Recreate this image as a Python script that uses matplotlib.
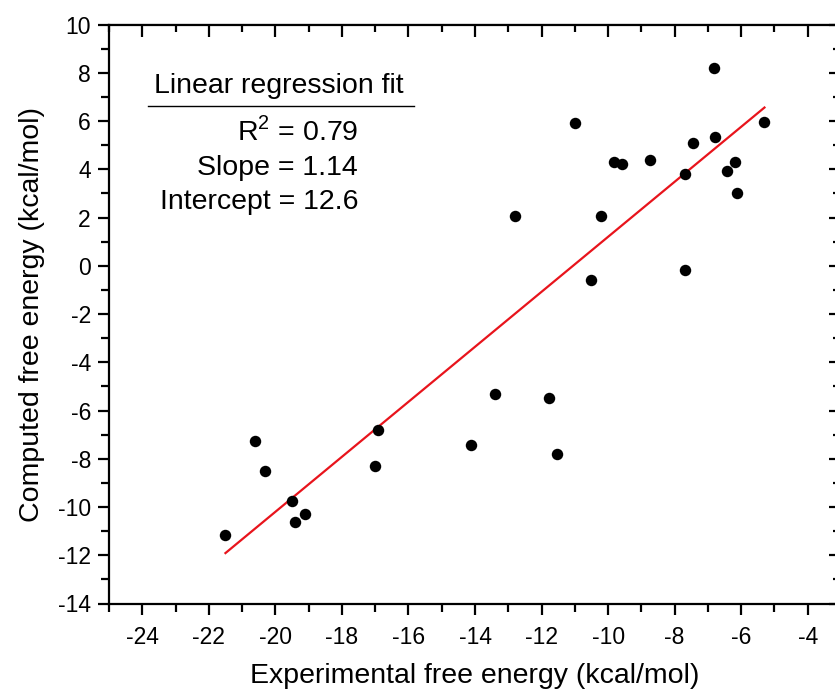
import numpy as np
import matplotlib
matplotlib.use("Agg")
import matplotlib.pyplot as plt
from matplotlib.ticker import MultipleLocator

plt.rcParams['font.family'] = ['Liberation Sans', 'DejaVu Sans']
plt.rcParams['axes.unicode_minus'] = False
plt.rcParams['mathtext.fontset'] = 'custom'
plt.rcParams['mathtext.rm'] = 'Liberation Sans'

# experimental vs computed free energies (kcal/mol)
exp_dg = [-21.5, -20.62, -20.32, -19.5, -19.41, -19.11, -17.01, -16.92,
          -14.11, -13.41, -12.81, -11.78, -11.53, -11.0, -10.5, -10.2,
          -9.83, -9.59, -8.75, -7.7, -7.7, -7.46, -6.83, -6.8,
          -6.44, -6.2, -6.14, -5.3]
calc_dg = [-11.18, -7.28, -8.49, -9.77, -10.64, -10.31, -8.28, -6.79,
           -7.44, -5.3, 2.08, -5.49, -7.82, 5.9, -0.61, 2.08,
           4.28, 4.2, 4.4, -0.16, 3.82, 5.07, 8.18, 5.32,
           3.91, 4.28, 3.0, 5.94]

# regression results as printed on the chart
r2 = 0.79
slope = 1.14
intercept = 12.6

fig = plt.figure(figsize=(8.35, 6.94), dpi=100)
W, H = 835, 694
# right spine falls just outside the image, as in the original
ax = fig.add_axes([109 / W, 1 - 603.5 / H, (841 - 109) / W, (603.5 - 24.5) / H])

ax.scatter(exp_dg, calc_dg, s=68, color='black', zorder=3, linewidths=0)

xfit = np.array([min(exp_dg), max(exp_dg)])
ax.plot(xfit, slope * xfit + intercept, color='#e8141c', lw=1.6, zorder=2)

ax.set_xlim(-25, -3)
ax.set_ylim(-14, 10)
ax.xaxis.set_major_locator(MultipleLocator(2))
ax.xaxis.set_minor_locator(MultipleLocator(1))
ax.yaxis.set_major_locator(MultipleLocator(2))
ax.yaxis.set_minor_locator(MultipleLocator(1))

for s in ax.spines.values():
    s.set_linewidth(1.6)
ax.tick_params(which='both', direction='out', width=1.6, labelsize=16.5,
               top=False, right=False)
ax.tick_params(axis='x', which='major', pad=8)
ax.tick_params(axis='y', which='major', pad=5)
ax.tick_params(which='major', length=8)
ax.tick_params(which='minor', length=5.5)

# mirrored ticks on top and right, pointing inward
sec_x = ax.secondary_xaxis('top')
sec_x.xaxis.set_major_locator(MultipleLocator(2))
sec_x.xaxis.set_minor_locator(MultipleLocator(1))
sec_x.tick_params(which='both', direction='in', width=1.6, labeltop=False)
sec_x.tick_params(which='major', length=9)
sec_x.tick_params(which='minor', length=5.5)
sec_y = ax.secondary_yaxis('right')
sec_y.yaxis.set_major_locator(MultipleLocator(2))
sec_y.yaxis.set_minor_locator(MultipleLocator(1))
sec_y.tick_params(which='both', direction='in', width=1.6, labelright=False)
sec_y.tick_params(which='major', length=9)
sec_y.tick_params(which='minor', length=5.5)

ax.set_xlabel('Experimental free energy (kcal/mol)', fontsize=20.5, labelpad=10)
ax.set_ylabel('Computed free energy (kcal/mol)', fontsize=20.5, labelpad=9)

# regression annotation box
fig.text(279 / W, 1 - 86 / H, 'Linear regression fit', fontsize=20.5,
         ha='center', va='center')
fig.add_artist(plt.Line2D([148 / W, 414 / W], [1 - 106 / H, 1 - 106 / H],
                          color='black', lw=1.0))
fig.text(358 / W, 1 - 131 / H, r'R$^{\mathregular{2}}$ = %.2f' % r2,
         fontsize=20.5, ha='right', va='center')
fig.text(358 / W, 1 - 168 / H, 'Slope = %.2f' % slope, fontsize=20.5,
         ha='right', va='center')
fig.text(358 / W, 1 - 202 / H, 'Intercept = %.1f' % intercept, fontsize=20.5,
         ha='right', va='center')

fig.savefig('out.png', dpi=100)
